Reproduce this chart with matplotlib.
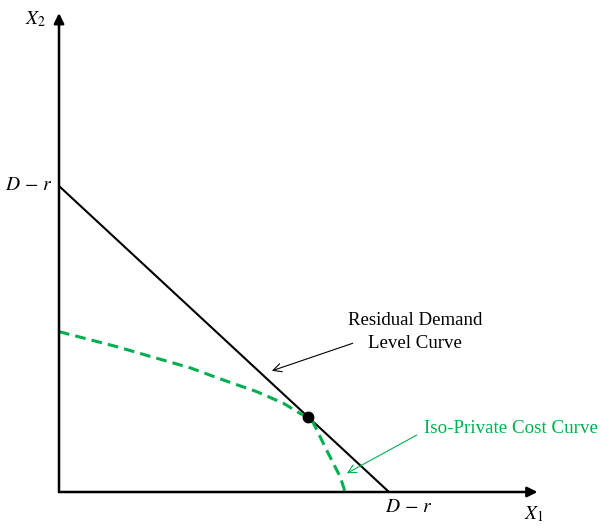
import matplotlib
matplotlib.use("Agg")
import matplotlib.pyplot as plt

plt.rcParams['mathtext.fontset'] = 'stix'
plt.rcParams['font.family'] = ['Liberation Serif', 'DejaVu Serif']

# Residual demand level curve: X1 + X2 = D - r (normalised to 1)
level_x = [0.0, 1.0]
level_y = [1.0, 0.0]

# Iso-private cost curve, read as a set of points
iso_x = [0.0, 0.175, 0.245, 0.397, 0.498, 0.599, 0.680, 0.730, 0.755,
         0.771, 0.791, 0.811, 0.831, 0.852, 0.867]
iso_y = [0.524, 0.475, 0.453, 0.406, 0.366, 0.328, 0.290, 0.257, 0.245,
         0.225, 0.181, 0.137, 0.094, 0.050, 0.0]

# Tangency point
opt_x = [0.755]
opt_y = [0.245]

axis_x_max = 1.45
axis_y_max = 1.565

green = '#00B050'

fig = plt.figure(figsize=(6.03, 5.26), dpi=100)
ax = fig.add_axes([0, 0, 1, 1])
ax.set_xlim(-59 / 330, (603 - 59) / 330)
ax.set_ylim(-34 / 306, 492 / 306)
ax.axis('off')

# Axes with arrowheads
ax.annotate('', xy=(axis_x_max, 0), xytext=(0, 0),
            arrowprops=dict(arrowstyle='-|>,head_length=0.6,head_width=0.3',
                            color='black', lw=1.8, shrinkA=0, shrinkB=0))
ax.annotate('', xy=(0, axis_y_max), xytext=(0, 0),
            arrowprops=dict(arrowstyle='-|>,head_length=0.6,head_width=0.3',
                            color='black', lw=1.8, shrinkA=0, shrinkB=0))

ax.plot(level_x, level_y, color='black', lw=1.5, solid_capstyle='butt')
ax.plot(iso_x, iso_y, color=green, lw=2.2, dashes=(3.5, 2.0))
ax.plot(opt_x, opt_y, 'o', color='black', markersize=7.5)

# Axis labels
ax.text(-0.07, 1.545, r'$X_2$', fontsize=14, ha='center', va='center')
ax.text(1.44, -0.072, r'$X_1$', fontsize=14, ha='center', va='center')
ax.text(-0.018, 1.0, r'$D\,-\,r$', fontsize=14, ha='right', va='center')
ax.text(1.06, -0.05, r'$D\,-\,r$', fontsize=14, ha='center', va='center')

# Curve annotations
ax.text(1.08, 0.523, 'Residual Demand\nLevel Curve', fontsize=13.6,
        ha='center', va='center', linespacing=1.45)
ax.annotate('', xy=(0.645, 0.396), xytext=(0.890, 0.486),
            arrowprops=dict(arrowstyle='->,head_length=0.6,head_width=0.3',
                            color='black', lw=0.8, shrinkA=0, shrinkB=0))

ax.text(1.107, 0.208, 'Iso-Private Cost Curve', fontsize=13.7, color=green,
        ha='left', va='center')
ax.annotate('', xy=(0.872, 0.061), xytext=(1.084, 0.186),
            arrowprops=dict(arrowstyle='->,head_length=0.6,head_width=0.3',
                            color=green, lw=0.8, shrinkA=0, shrinkB=0))

fig.savefig('out.png', dpi=100)
